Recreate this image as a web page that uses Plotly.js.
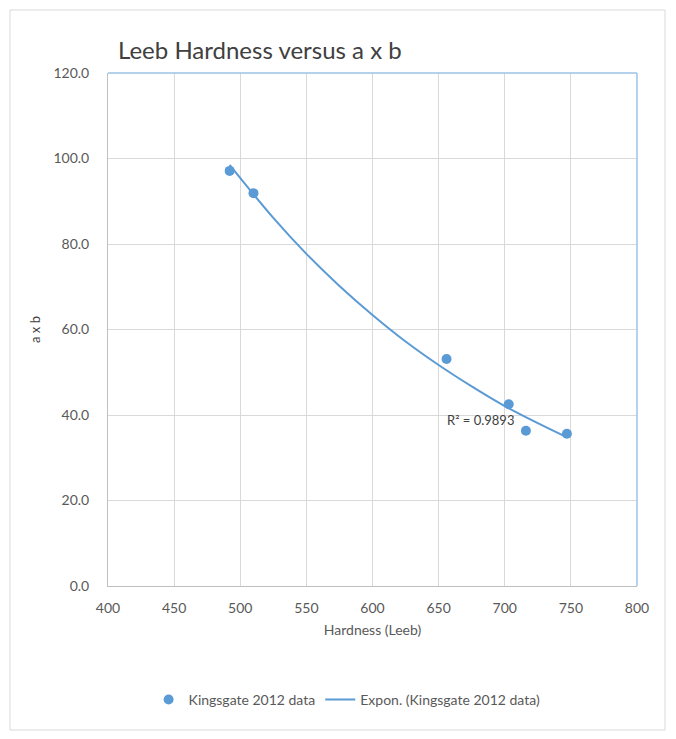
<!DOCTYPE html>
<html>
<head>
<meta charset="utf-8">
<script src="https://cdn.plot.ly/plotly-3.0.1.min.js"></script>
<style>
html,body{margin:0;padding:0;background:#fff;}
#chart{width:676px;height:739px;}
</style>
</head>
<body>
<div id="chart"></div>
<script>
// Measured data (Kingsgate 2012)
const hardness = [492, 510, 656, 703, 716, 747];
const axb = [97.1, 91.9, 53.1, 42.5, 36.3, 35.6];

// Exponential trendline
const trendX = [492, 525, 550, 575, 600, 625, 650, 675, 700, 725, 747];
const trendY = [98.5, 86.1, 77.7, 70.2, 63.4, 57.2, 51.7, 46.7, 42.1, 38.1, 34.8];

const seriesName = 'Kingsgate 2012 data';
const trendName = 'Expon. (Kingsgate 2012 data)';
const r2Text = 'R² = 0.9893';

const blue = '#5b9bd5';
const font = 'Lato, Liberation Sans, Arial, sans-serif';

const traces = [
  {
    x: hardness, y: axb, name: seriesName,
    type: 'scatter', mode: 'markers',
    marker: {color: blue, size: 10}
  },
  {
    x: trendX, y: trendY, name: trendName,
    type: 'scatter', mode: 'lines',
    line: {color: blue, width: 2, shape: 'spline'}
  }
];

const layout = {
  width: 676, height: 739,
  margin: {l: 108, r: 39, t: 73, b: 153},
  paper_bgcolor: '#fff', plot_bgcolor: '#fff',
  font: {family: font, color: '#595959', size: 14},
  showlegend: true,
  title: {
    text: 'Leeb Hardness versus a x b',
    x: 118/676, xanchor: 'left', y: 1 - 51/739, yanchor: 'middle',
    font: {family: font, size: 24, color: '#404040'}
  },
  xaxis: {
    range: [400, 800], dtick: 50, tick0: 400,
    showgrid: true, gridcolor: '#d9d9d9', gridwidth: 1,
    showline: true, linecolor: '#bfbfbf', linewidth: 1,
    zeroline: false, ticks: '', ticklen: 0, ticklabelstandoff: 9,
    tickfont: {size: 14, color: '#595959'},
    title: {text: 'Hardness (Leeb)', font: {size: 14, color: '#595959'}, standoff: 10}
  },
  yaxis: {
    range: [0, 120], dtick: 20, tick0: 0, tickformat: '.1f',
    showgrid: true, gridcolor: '#d9d9d9', gridwidth: 1,
    showline: true, linecolor: '#bfbfbf', linewidth: 1,
    zeroline: false, ticks: '', ticklen: 0, ticklabelstandoff: 15,
    tickfont: {size: 14, color: '#595959'},
    title: {text: 'a x b', font: {size: 13, color: '#404040'}, standoff: 9}
  },
  legend: {
    orientation: 'h', x: 0.452, xanchor: 'center', y: -0.222, yanchor: 'middle',
    font: {size: 14, color: '#595959'}, bgcolor: 'rgba(0,0,0,0)'
  },
  annotations: [{
    x: 682, y: 38.8, xref: 'x', yref: 'y', text: r2Text, showarrow: false,
    font: {size: 13, color: '#404040'}
  }],
  shapes: [
    {type: 'line', xref: 'paper', yref: 'paper', x0: 0, x1: 1, y0: 1, y1: 1,
     line: {color: '#9dc3e6', width: 1.5}},
    {type: 'line', xref: 'paper', yref: 'paper', x0: 1, x1: 1, y0: 0, y1: 1,
     line: {color: '#9dc3e6', width: 1.5}},
    {type: 'rect', xref: 'paper', yref: 'paper',
     x0: (10-108)/529, x1: (665-108)/529, y0: (586-730)/513, y1: (586-10)/513,
     line: {color: '#d9d9d9', width: 1}}
  ]
};

Plotly.newPlot('chart', traces, layout, {displayModeBar: false, staticPlot: true});
</script>
</body>
</html>
